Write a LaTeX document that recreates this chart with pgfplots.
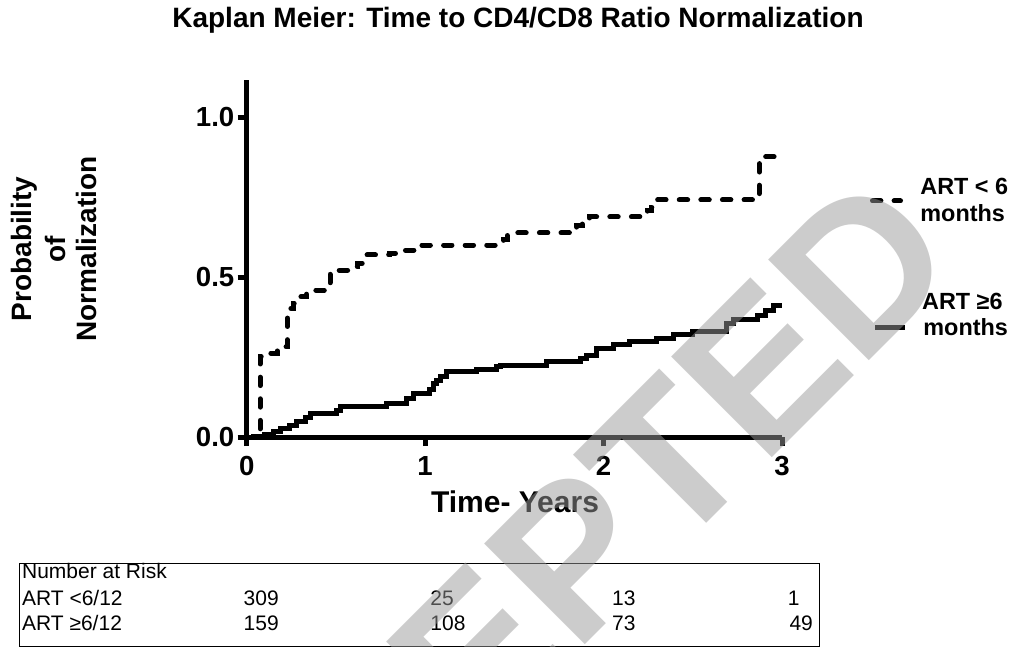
\documentclass[border=0pt]{standalone}
\usepackage{pgfplots}
\pgfplotsset{compat=1.18}
\usepackage{pgfplotstable}
\usepackage{fontspec}
\setmainfont{Liberation Sans}

% ART < 6 months (step function)
\pgfplotstableread{
t p
0 0
0.075 0.251
0.13 0.262
0.17 0.272
0.20 0.282
0.228 0.402
0.26 0.418
0.30 0.438
0.336 0.459
0.467 0.511
0.50 0.521
0.57 0.532
0.62 0.543
0.66 0.569
0.80 0.574
0.88 0.584
0.97 0.600
1.42 0.605
1.44 0.616
1.46 0.638
1.85 0.660
1.88 0.666
1.92 0.688
2.245 0.709
2.27 0.718
2.295 0.741
2.873 0.876
3.0 0.876
}\lowart

% ART >= 6 months
\pgfplotstableread{
t p
0 0
0.04 0.003
0.10 0.008
0.149 0.017
0.187 0.027
0.24 0.037
0.28 0.048
0.33 0.062
0.355 0.074
0.504 0.084
0.523 0.095
0.785 0.105
0.897 0.121
0.934 0.137
1.027 0.147
1.046 0.168
1.065 0.176
1.084 0.188
1.121 0.204
1.289 0.210
1.401 0.220
1.42 0.225
1.68 0.235
1.87 0.246
1.905 0.256
1.96 0.277
2.055 0.288
2.148 0.300
2.298 0.308
2.39 0.319
2.50 0.331
2.69 0.355
2.73 0.368
2.86 0.381
2.91 0.397
2.95 0.412
3.0 0.412
}\highart

\begin{document}
\begin{tikzpicture}
\path[use as bounding box] (0,0) rectangle (506.5pt,-323.5pt);

\begin{axis}[
    at={(123.35pt,-218.5pt)}, anchor=south west,
    scale only axis, width=267.65pt, height=178.5pt,
    xmin=0, xmax=3, ymin=0, ymax=1.116,
    clip=false,
    axis x line*=bottom, axis y line*=left,
    axis line style={line width=2.5pt, black},
    xtick={0,1,2,3}, xticklabels={0,1,2,3},
    ytick={0,0.5,1}, yticklabels={0.0,0.5,1.0},
    tick align=outside, major tick length=4.5pt,
    major tick style={line width=2.5pt, black},
    ticklabel style={font=\bfseries\fontsize{13.8}{16}\selectfont},
    xticklabel style={inner sep=0pt, yshift=-5pt},
    yticklabel style={inner sep=0pt, xshift=-1.5pt},
]
\addplot[const plot, black, line width=2.5pt, line cap=round, dash pattern=on 4.2pt off 6.6pt] table[x=t, y=p] {\lowart};
\addplot[const plot, black, line width=2.5pt] table[x=t, y=p] {\highart};
\end{axis}

\begin{scope}[x=0.5pt, y=-0.5pt]
% title and axis labels
\node[anchor=base, inner sep=0, font=\bfseries\fontsize{14}{17}\selectfont] at (518,27.3) {Kaplan Meier: Time to CD4/CD8 Ratio Normalization};
\node[anchor=base, inner sep=0, font=\bfseries\fontsize{15}{18}\selectfont] at (515,512.7) {Time- Years};
\begin{scope}[every node/.style={rotate=90, anchor=base, inner sep=0, font=\bfseries\fontsize{14}{17}\selectfont}]
  \node at (31.7,249) {Probability};
  \node at (65,249) {of};
  \node at (97,249) {Normalization};
\end{scope}

% legend
\draw[line width=2.5pt, line cap=round, dash pattern=on 4.2pt off 6.6pt] (872.5,201) -- (900.5,201);
\draw[line width=2.5pt] (875,327.7) -- (905,327.7);
\begin{scope}[every node/.style={anchor=base west, inner sep=0, font=\bfseries\fontsize{11.7}{14}\selectfont}]
  \node at (920,195) {ART < 6};
  \node at (920,221.7) {months};
  \node at (921.7,309.3) {ART ≥6};
  \node at (923,335) {months};
\end{scope}

% number at risk table
\draw[line width=0.5pt] (19,563.3) rectangle (819,646);
\begin{scope}[every node/.style={anchor=base west, inner sep=0, font=\fontsize{10.5}{12}\selectfont}]
  \node at (21.7,578.3) {Number at Risk};
  \node at (21.7,605) {ART <6/12};
  \node at (21.7,630.7) {ART ≥6/12};
  \node at (243.3,605) {309};
  \node at (243.3,630.7) {159};
  \node at (430,605) {25};
  \node at (430,630.7) {108};
  \node at (611.7,605) {13};
  \node at (611.7,630.7) {73};
  \node[anchor=base east] at (800,605) {1};
  \node[anchor=base east] at (813.3,630.7) {49};
\end{scope}

% watermark
\node[rotate=45, anchor=base, inner sep=0, opacity=0.5, text={rgb,1:red,0.6;green,0.6;blue,0.6},
      font=\bfseries\fontsize{103.5}{120}\selectfont] at (563,667) {ACCEPTED};
\end{scope}
\end{tikzpicture}
\end{document}
